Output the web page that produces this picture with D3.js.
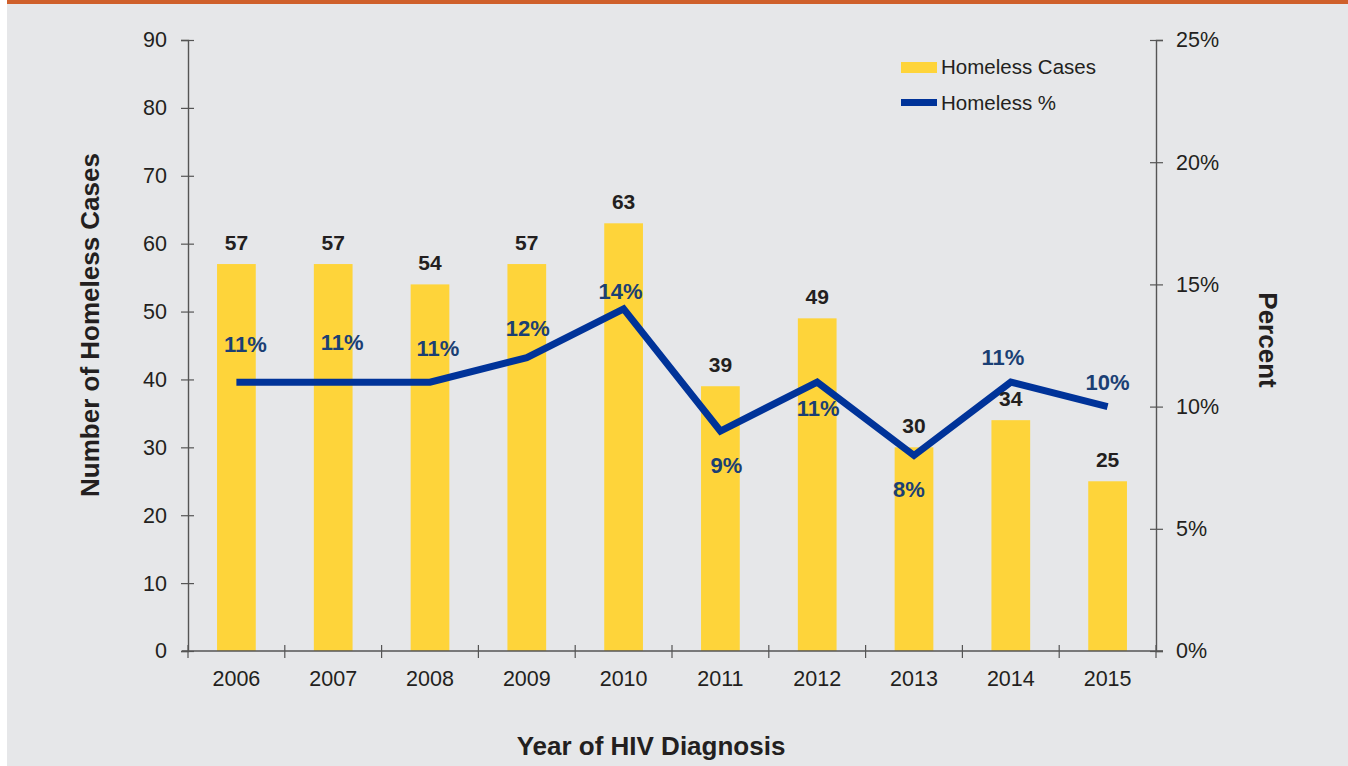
<!DOCTYPE html>
<html>
<head>
<meta charset="utf-8">
<script src="https://cdn.jsdelivr.net/npm/d3@7"></script>
<style>
  html, body { margin: 0; padding: 0; background: #ffffff; }
  svg { display: block; font-family: "Liberation Sans", Arial, Helvetica, sans-serif; }
</style>
</head>
<body>
<svg id="chart" width="1348" height="766"></svg>
<script>
// Homeless HIV cases by year of diagnosis
const years = ["2006", "2007", "2008", "2009", "2010", "2011", "2012", "2013", "2014", "2015"];
const homelessCases = [57, 57, 54, 57, 63, 39, 49, 30, 34, 25];
const homelessPct = [11, 11, 11, 12, 14, 9, 11, 8, 11, 10];
const leftTicks = [0, 10, 20, 30, 40, 50, 60, 70, 80, 90];
const rightTicks = [0, 5, 10, 15, 20, 25];
// label nudges for the percent labels (pixels from the line point)
const pctLabelDx = [9, 9, 8, 1, -3, 6, 1, -5, -8, 0];
const pctLabelDy = [-38, -40, -34, -29, -18, 34, 26, 34, -25, -24];

const svg = d3.select("#chart");
const W = 1348, H = 766;
const margin = { left: 188, right: W - 1156, top: 40, bottom: H - 651 };

// panel background and top accent strip
svg.append("rect").attr("x", 7).attr("y", 0).attr("width", W - 7).attr("height", H).attr("fill", "#e6e7e9");
svg.append("rect").attr("x", 7).attr("y", 0).attr("width", W - 7).attr("height", 4).attr("fill", "#cf602b");

const x = d3.scaleBand().domain(years).range([margin.left, W - margin.right]).paddingInner(0.6).paddingOuter(0.3);
const xOuter = d3.scaleBand().domain(years).range([margin.left, W - margin.right]);
const yL = d3.scaleLinear().domain([0, 90]).range([H - margin.bottom, margin.top]);
const yR = d3.scaleLinear().domain([0, 25]).range([H - margin.bottom, margin.top]);

const axisColor = "#555555";
const textColor = "#231f20";

// bars
svg.append("g").selectAll("rect").data(years).join("rect")
  .attr("x", d => x(d))
  .attr("width", x.bandwidth())
  .attr("y", (d, i) => yL(homelessCases[i]))
  .attr("height", (d, i) => yL(0) - yL(homelessCases[i]))
  .attr("fill", "#fed43a");

// left axis
const gL = svg.append("g").attr("transform", `translate(${margin.left},0)`)
  .call(d3.axisLeft(yL).tickValues(leftTicks).tickSize(7).tickPadding(14));
gL.selectAll(".tick line").attr("x2", -7).attr("x1", 6);

// right axis
const gR = svg.append("g").attr("transform", `translate(${W - margin.right},0)`)
  .call(d3.axisRight(yR).tickValues(rightTicks).tickFormat(d => d + "%").tickSize(7).tickPadding(13));
gR.selectAll(".tick line").attr("x1", -6).attr("x2", 7);

// bottom axis: ticks sit at category boundaries
const gB = svg.append("g").attr("transform", `translate(0,${H - margin.bottom})`);
gB.append("line").attr("x1", margin.left - 6).attr("x2", W - margin.right + 7)
  .attr("stroke", axisColor).attr("stroke-width", 1.4);
const bounds = years.map(d => xOuter(d)).concat([W - margin.right]);
gB.selectAll("line.tk").data(bounds).join("line").attr("class", "tk")
  .attr("x1", d => d).attr("x2", d => d).attr("y1", -6).attr("y2", 7)
  .attr("stroke", axisColor).attr("stroke-width", 1.2);
gB.selectAll("text").data(years).join("text")
  .attr("x", d => xOuter(d) + xOuter.bandwidth() / 2)
  .attr("y", 35)
  .attr("text-anchor", "middle")
  .attr("font-size", 21.5)
  .attr("fill", textColor)
  .text(d => d);

[gL, gR].forEach(g => {
  g.select(".domain").attr("stroke", axisColor).attr("stroke-width", 1.4);
  g.selectAll(".tick line").attr("stroke", axisColor).attr("stroke-width", 1.2);
  g.selectAll(".tick text").attr("font-size", 21.5).attr("fill", textColor)
    .attr("font-family", "'Liberation Sans', Arial, sans-serif");
});

// percent line
const cx = d => x(d) + x.bandwidth() / 2;
const line = d3.line().x((d, i) => cx(years[i])).y(d => yR(d));
svg.append("path").datum(homelessPct)
  .attr("d", line)
  .attr("fill", "none")
  .attr("stroke", "#003399")
  .attr("stroke-width", 7)
  .attr("stroke-linejoin", "miter");

// bar value labels
svg.append("g").selectAll("text").data(years).join("text")
  .attr("x", d => cx(d))
  .attr("y", (d, i) => yL(homelessCases[i]) - 14)
  .attr("text-anchor", "middle")
  .attr("font-size", 21)
  .attr("font-weight", "bold")
  .attr("fill", textColor)
  .text((d, i) => homelessCases[i]);

// percent labels
svg.append("g").selectAll("text").data(years).join("text")
  .attr("x", (d, i) => cx(d) + pctLabelDx[i])
  .attr("y", (d, i) => yR(homelessPct[i]) + pctLabelDy[i])
  .attr("dy", "0.35em")
  .attr("text-anchor", "middle")
  .attr("font-size", 22)
  .attr("font-weight", "bold")
  .attr("fill", "#1b3f74")
  .text((d, i) => homelessPct[i] + "%");

// axis titles
svg.append("text")
  .attr("transform", `translate(99,325) rotate(-90)`)
  .attr("text-anchor", "middle")
  .attr("font-size", 26).attr("font-weight", "bold").attr("fill", textColor)
  .text("Number of Homeless Cases");
svg.append("text")
  .attr("transform", `translate(1259,340) rotate(90)`)
  .attr("text-anchor", "middle")
  .attr("font-size", 26).attr("font-weight", "bold").attr("fill", textColor)
  .text("Percent");
svg.append("text")
  .attr("x", 651).attr("y", 755)
  .attr("text-anchor", "middle")
  .attr("font-size", 26).attr("font-weight", "bold").attr("fill", textColor)
  .text("Year of HIV Diagnosis");

// legend
const legend = svg.append("g").attr("transform", "translate(901,0)");
legend.append("rect").attr("x", 0).attr("y", 62).attr("width", 36).attr("height", 11).attr("fill", "#fed43a");
legend.append("text").attr("x", 40).attr("y", 67).attr("dy", "0.35em")
  .attr("font-size", 20.5).attr("fill", textColor).text("Homeless Cases");
legend.append("rect").attr("x", 0).attr("y", 99).attr("width", 36).attr("height", 7).attr("fill", "#003399");
legend.append("text").attr("x", 40).attr("y", 103).attr("dy", "0.35em")
  .attr("font-size", 20.5).attr("fill", textColor).text("Homeless %");
</script>
</body>
</html>
